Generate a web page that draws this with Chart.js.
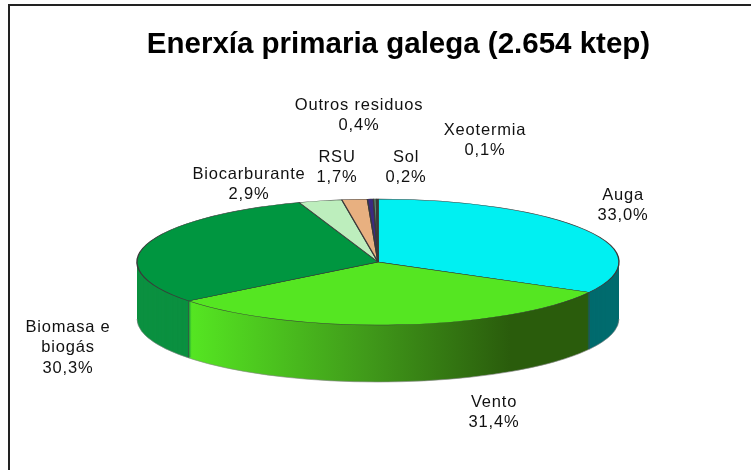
<!DOCTYPE html>
<html>
<head>
<meta charset="utf-8">
<title>Enerxía primaria galega</title>
<script src="https://cdn.jsdelivr.net/npm/chart.js@4/dist/chart.umd.min.js"></script>
<style>
  html, body { margin: 0; padding: 0; background: #fff; }
  #wrap { position: relative; width: 751px; height: 470px; }
</style>
</head>
<body>
<div id="wrap"><canvas id="myChart" width="751" height="470"></canvas></div>
<script>
const chartTitle = 'Enerxía primaria galega (2.654 ktep)';
const categories = ['Auga', 'Vento', ['Biomasa e', 'biogás'], 'Biocarburante', 'RSU', 'Outros residuos', 'Sol', 'Xeotermia'];
const shares = [33.0, 31.4, 30.3, 2.9, 1.7, 0.4, 0.2, 0.1];

const topColors = ['#00f0f2', '#55e622', '#009640', '#bdeebd', '#e8b080', '#3b2a80', '#5a8a70', '#2a5a50'];
const sideColors = ['#006b6e', null, '#0b9040', '#bdeebd', '#e8b080', '#3b2a80', '#5a8a70', '#2a5a50'];

// label centre x, first baseline y
const labelSpots = [
  [623, 200], [494, 407], [68, 332], [249, 179], [337, 162], [359, 110], [406, 162], [485, 135]
];

const tilt = 63 / 241;
const depth = 57;
const centerX = 378;

const tiltPlugin = {
  id: 'tilt',
  beforeDatasetsDraw(chart) {
    const ctx = chart.ctx;
    const arcs = chart.getDatasetMeta(0).data;
    const cy = arcs[0].y;

    ctx.save();
    ctx.translate(0, cy);
    ctx.scale(1, tilt);
    ctx.translate(0, -cy);

    // side wall: the same arcs stacked from the bottom up
    const r = arcs[0].outerRadius;
    const grad = ctx.createLinearGradient(centerX - r * 0.78, 0, centerX + r * 0.55, 0);
    grad.addColorStop(0, '#55e622');
    grad.addColorStop(0.55, '#409a1a');
    grad.addColorStop(1, '#2a5c0c');

    const saved = arcs.map(a => a.options);
    for (let d = depth; d > 0; d--) {
      ctx.save();
      ctx.translate(0, d / tilt);
      arcs.forEach((a, i) => {
        a.options = Object.assign({}, saved[i], {
          backgroundColor: sideColors[i] || grad,
          borderWidth: 0
        });
        a.draw(ctx);
      });
      ctx.restore();
    }
    arcs.forEach((a, i) => { a.options = saved[i]; });

    // edges between the front walls, then the bottom rim
    ctx.strokeStyle = '#444';
    ctx.lineWidth = 1;
    arcs.forEach(a => {
      const ang = a.endAngle;
      if (Math.sin(ang) > 0) {
        const px = a.x + Math.cos(ang) * r;
        const py = a.y + Math.sin(ang) * r;
        ctx.beginPath();
        ctx.moveTo(px, py);
        ctx.lineTo(px, py + depth / tilt);
        ctx.stroke();
      }
    });
    ctx.strokeStyle = '#888';
    ctx.beginPath();
    ctx.arc(arcs[0].x, cy + depth / tilt, r, 0, Math.PI);
    ctx.stroke();
  },
  afterDatasetsDraw(chart) {
    chart.ctx.restore();
  },
  afterDraw(chart) {
    const ctx = chart.ctx;
    ctx.save();

    // only the top and left sides of the frame are in the picture
    ctx.strokeStyle = '#222';
    ctx.lineWidth = 2;
    ctx.beginPath();
    ctx.moveTo(751, 5);
    ctx.lineTo(9, 5);
    ctx.lineTo(9, 470);
    ctx.stroke();

    ctx.fillStyle = '#000';
    ctx.textAlign = 'center';
    ctx.textBaseline = 'alphabetic';
    ctx.font = 'bold 29.5px "Liberation Sans", Arial, sans-serif';
    ctx.fillText(chartTitle, 398.5, 53);

    ctx.fillStyle = '#111';
    ctx.font = '16.5px "Liberation Sans", Arial, sans-serif';
    ctx.letterSpacing = '0.8px';
    categories.forEach((name, i) => {
      const lines = [].concat(name, shares[i].toFixed(1).replace('.', ',') + '%');
      lines.forEach((txt, k) => {
        ctx.fillText(txt, labelSpots[i][0], labelSpots[i][1] + Math.round(k * 20.4));
      });
    });
    ctx.restore();
  }
};

new Chart(document.getElementById('myChart'), {
  type: 'pie',
  data: {
    labels: categories,
    datasets: [{
      data: shares,
      backgroundColor: topColors,
      borderColor: '#3a3a3a',
      borderWidth: 1.4,
      clip: false
    }]
  },
  plugins: [tiltPlugin],
  options: {
    responsive: false,
    animation: false,
    radius: 241,
    layout: { padding: { left: 5, top: 54 } },
    plugins: {
      legend: { display: false },
      tooltip: { enabled: false },
      title: { display: false }
    }
  }
});
</script>
</body>
</html>
